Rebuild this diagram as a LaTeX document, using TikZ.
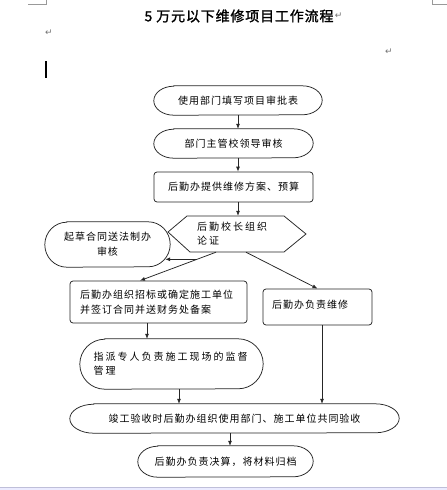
\documentclass[tikz,border=0pt]{standalone}
\usepackage{fontspec}
\newfontfamily\cjk[LetterSpace=10]{Noto Sans CJK SC}
\newfontfamily\cjkw[LetterSpace=20]{Noto Sans CJK SC}
\newfontfamily\cjkt[LetterSpace=6,FakeBold=1.5]{Noto Sans CJK SC}
\newfontfamily\dejavu{DejaVu Sans}
\usetikzlibrary{arrows.meta,calc}
\tikzset{
  line/.style={draw=black!85, line width=0.75pt},
  arr/.style={line, -{Latex[length=5pt,width=4pt]}},
  txt/.style={font=\cjk\fontsize{10}{15}\selectfont, inner sep=0pt, align=center},
  box/.style={txt, line, rounded corners=3pt},
  pmark/.style={font=\dejavu\fontsize{9}{10}\selectfont, text=black!55, inner sep=0pt},
}
\newcommand\termbox[7][]{%
  \node[txt, minimum width=#4pt, minimum height=#5pt, #1] (#2) at (#3) {#7};
  \draw[line] ([xshift=#6pt]#2.north west) -- ([xshift=-#6pt]#2.north east)
    arc[start angle=90, end angle=-90, x radius=#6pt, y radius=#5pt/2]
    -- ([xshift=#6pt]#2.south west)
    arc[start angle=270, end angle=90, x radius=#6pt, y radius=#5pt/2] -- cycle;}
\begin{document}
\begin{tikzpicture}[x=1pt,y=1pt]
\useasboundingbox (0,0) rectangle (447,-490);
\fill[white] (0,0) rectangle (447,-490);
% window band at the bottom
\fill[blue!8!white] (0,-487) rectangle (447,-490);
\draw[blue!25!gray!40, line width=0.6pt] (0,-487) -- (447,-487);
% page corner marks and cursor
\draw[black!40, line width=0.6pt] (28,-4) -- (46,-4) -- (46,0);
\draw[black!40, line width=0.6pt] (432,0) -- (432,-4) -- (447,-4);
\draw[black, line width=1.6pt] (46,-61) -- (46,-78);
% title
\node[font=\cjkt\fontsize{14}{16}\selectfont, inner sep=0pt] (title) at (239,-16) {5 万元以下维修项目工作流程};
\node[pmark, anchor=west] (pm1) at ([xshift=1pt]title.east) {↵};
\node[pmark] (pm2) at (49,-33) {↵};
\node[pmark] (pm3) at (389,-52) {↵};
% nodes
\termbox{n1}{238,-100.5}{168}{29}{20}{使用部门填写项目审批表}
\termbox{n2}{233.5,-143.5}{159}{29}{20}{部门主管校领导审核}
\node[box, minimum width=159pt, minimum height=30pt] (n3) at (233.5,-187) {后勤办提供维修方案、预算};
\node[txt, font=\cjkw\fontsize{10}{14}\selectfont, text width=80pt, align=left, minimum height=36pt] (n4) at (237,-234) {后勤校长组织\\论证};
\draw[line] (168,-232) -- (187,-216) -- (284,-216) -- (306,-234) -- (284,-252) -- (190,-252) -- cycle;
\termbox{n5}{107.5,-244.5}{125}{45}{22}{起草合同送法制办\\审核}
\node[box, minimum width=177pt, minimum height=42pt, text width=157pt, align=left] (n6) at (158.5,-302) {后勤办组织招标或确定施工单位\\并签订合同并送财务处备案};
\node[box, minimum width=109pt, minimum height=36pt, text width=91pt, align=left] (n7) at (317.5,-307) {\raisebox{5pt}{后勤办负责维修}};
\termbox[text width=156pt, align=left, font=\cjkw\fontsize{10}{14}\selectfont]{n8}{171.5,-364}{183}{50}{25}{指派专人负责施工现场的监督\\管理}
\termbox{n9}{234.5,-418.5}{329}{29}{24}{竣工验收时后勤办组织使用部门、施工单位共同验收}
\termbox{n10}{225.5,-461.5}{175}{31}{20}{后勤办负责决算，将材料归档}
% connectors
\draw[arr] (n1.south) -- (n1.south |- n2.north);
\draw[arr] (n2.south -| n1.south) -- (n3.north -| n1.south);
\draw[arr] (n3.south -| n1.south) -- (n4.north -| n1.south);
\coordinate (h4l) at ([xshift=-21pt]n4.south);
\coordinate (n6t) at ([xshift=-18.5pt]n6.north);
\draw[arr] (h4l) -- (n6t);
\coordinate (br) at ($(h4l)!0.25!(n6t)$);
\coordinate (n5e) at ([xshift=-5pt]n5.east);
\draw[arr] (br) -- (br -| n5e);
\draw[arr] ([xshift=9pt]n4.south) -- (n7.north);
\draw[arr] ([xshift=-11.5pt]n6.south) -- ([xshift=-11.5pt]n6.south |- n8.north);
\draw[arr] ([xshift=4.5pt]n7.south) -- ([xshift=4.5pt]n7.south |- n9.north);
\draw[arr] ([xshift=7.5pt]n8.south) -- ([xshift=7.5pt]n8.south |- n9.north);
\draw[arr] ([xshift=-4.5pt]n9.south) -- ([xshift=-4.5pt]n9.south |- n10.north);
\end{tikzpicture}
\end{document}
